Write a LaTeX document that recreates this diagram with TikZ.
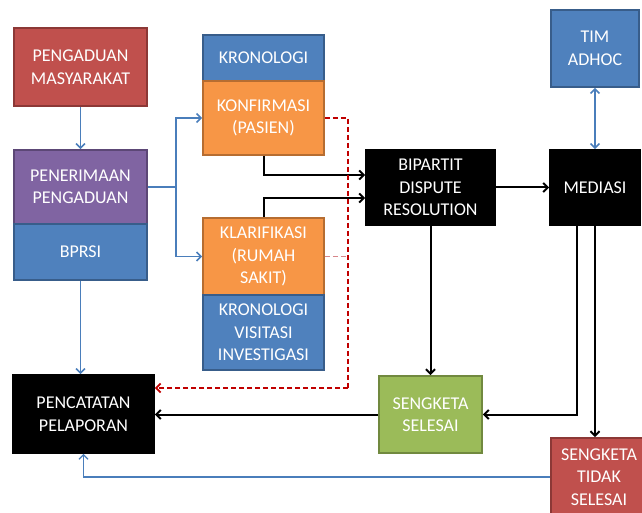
\documentclass[tikz,border=0pt]{standalone}
\usepackage{fontspec}
\setmainfont{Carlito}
\usetikzlibrary{arrows.meta}

\definecolor{cRed}{HTML}{C0504D}
\definecolor{cRedD}{HTML}{8C3836}
\definecolor{cPurple}{HTML}{8064A2}
\definecolor{cPurpleD}{HTML}{5C4776}
\definecolor{cBlue}{HTML}{4F81BD}
\definecolor{cBlueD}{HTML}{385D8A}
\definecolor{cOrange}{HTML}{F79646}
\definecolor{cOrangeD}{HTML}{B66D31}
\definecolor{cGreen}{HTML}{9BBB59}
\definecolor{cGreenD}{HTML}{71893F}
\definecolor{cLine}{HTML}{4A7EBB}
\definecolor{cDash}{HTML}{C00000}
\definecolor{cDashL}{HTML}{D7868A}

\tikzset{
  box/.style={draw, line width=1.8pt, text=white, align=center, inner sep=0pt,
    font=\fontsize{18}{22.5}\selectfont},
  redbox/.style={box, fill=cRed, draw=cRedD},
  purplebox/.style={box, fill=cPurple, draw=cPurpleD},
  bluebox/.style={box, fill=cBlue, draw=cBlueD},
  orangebox/.style={box, fill=cOrange, draw=cOrangeD},
  greenbox/.style={box, fill=cGreen, draw=cGreenD},
  blackbox/.style={box, fill=black, draw=black},
  tip/.style={-{Straight Barb[length=4.5pt,width=9pt]}},
  bluearrow/.style={tip, draw=cLine, line width=1.5pt},
  blackarrow/.style={tip, draw=black, line width=2pt},
  reddash/.style={draw=cDash, line width=1.8pt, dash pattern=on 5pt off 3pt},
}

\begin{document}
\begin{tikzpicture}[x=1pt, y=-1pt]
\useasboundingbox (0,0) rectangle (642,513);

% left column
\node[redbox, minimum width=133pt, minimum height=78pt] (pm) at (80.5,67) {PENGADUAN\\MASYARAKAT};
\node[purplebox, minimum width=133pt, minimum height=74pt] (pp) at (80.5,187) {PENERIMAAN\\PENGADUAN};
\node[bluebox, minimum width=133pt, minimum height=56pt] (bprsi) at (80.5,252) {BPRSI};
\node[blackbox, minimum width=141pt, minimum height=78pt] (pc) at (83.5,414) {PENCATATAN\\PELAPORAN};

% middle column
\node[bluebox, minimum width=121pt, minimum height=46pt] (kron1) at (263.5,58) {KRONOLOGI};
\node[orangebox, minimum width=121pt, minimum height=74pt] (konf) at (263.5,118) {KONFIRMASI\\(PASIEN)};
\node[orangebox, minimum width=121pt, minimum height=77pt] (klar) at (263.5,256.5) {KLARIFIKASI\\(RUMAH\\SAKIT)};
\node[bluebox, minimum width=121pt, minimum height=75pt] (kron2) at (263.5,332.5) {KRONOLOGI\\VISITASI\\INVESTIGASI};

% right part
\node[blackbox, minimum width=129pt, minimum height=75pt] (bip) at (430.5,187.5) {BIPARTIT\\DISPUTE\\RESOLUTION};
\node[blackbox, minimum width=90pt, minimum height=75pt] (med) at (595,187.5) {MEDIASI};
\node[bluebox, minimum width=88pt, minimum height=77pt] (tim) at (595,48.5) {TIM\\ADHOC};
\node[greenbox, minimum width=103pt, minimum height=77pt] (ss) at (430.5,414.5) {SENGKETA\\SELESAI};
\node[redbox, minimum width=96pt, minimum height=78pt] (sts) at (599,477) {SENGKETA\\TIDAK\\SELESAI};

% blue connectors
\draw[bluearrow] (pm) -- (pp);
\draw[bluearrow] (pp.east) -- ++(28,0) coordinate (split) |- (konf.west);
\draw[bluearrow] (split) |- (klar.west);
\draw[bluearrow] (bprsi.south) -- (bprsi.south |- pc.north);
\draw[bluearrow, {Straight Barb[length=4.5pt,width=9pt]}-{Straight Barb[length=4.5pt,width=9pt]}] (tim.south) -- (med.north);
\draw[bluearrow, line width=1.2pt] (sts.west) -| (pc.south);

% black connectors
\draw[blackarrow] (konf.south) |- ([yshift=12.5pt]bip.west);
\draw[blackarrow] (klar.north) |- ([yshift=-10.5pt]bip.west);
\draw[blackarrow] (bip.east) -- (med.west);
\draw[blackarrow] (bip.south) -- (ss.north);
\draw[blackarrow] ([xshift=-18pt]med.south) |- (ss.east);
\draw[blackarrow] (med.south) -- (med.south |- sts.north);
\draw[blackarrow] (ss.west) -- (ss.west -| pc.east);

% dashed feedback to the record box
\coordinate (rc) at (348,388);
\draw[reddash] (konf.east) -| (rc);
\draw[reddash, tip] (rc) -- (rc -| pc.east);
\draw[draw=cDashL, line width=1.1pt, dash pattern=on 5pt off 3pt] (klar.east) -- (klar.east -| rc);
\end{tikzpicture}
\end{document}
